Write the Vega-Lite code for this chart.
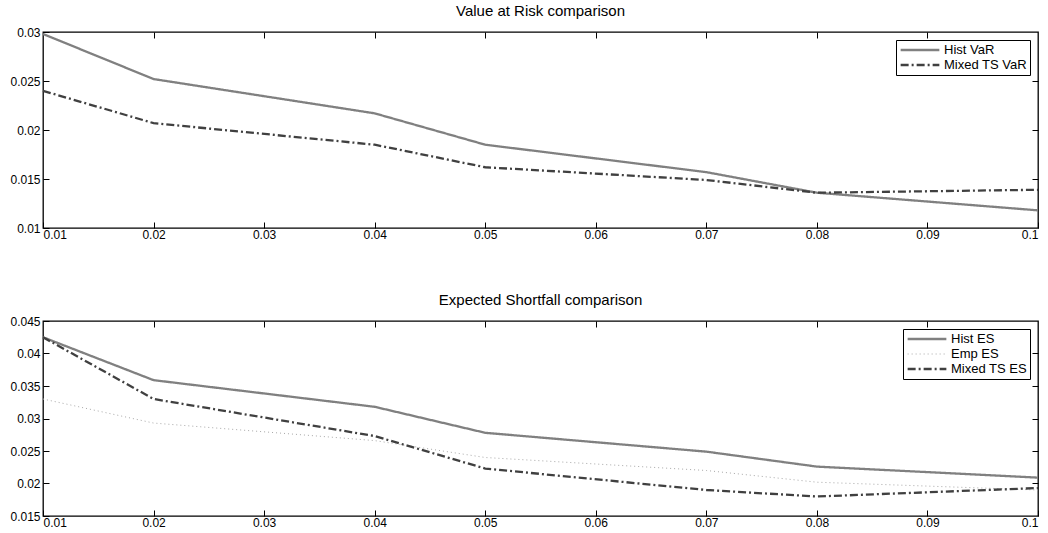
{
  "$schema": "https://vega.github.io/schema/vega-lite/v6.json",
  "padding": {"left": 9, "top": 3, "right": 0, "bottom": 0},
  "spacing": 51,
  "resolve": {
    "scale": {"color": "independent", "strokeDash": "independent", "strokeWidth": "independent"},
    "legend": {"color": "independent", "strokeDash": "independent", "strokeWidth": "independent"}
  },
  "config": {
    "font": "Liberation Sans",
    "view": {"stroke": "#000000", "strokeWidth": 1.3},
    "axis": {
      "grid": false,
      "domain": false,
      "ticks": true,
      "tickColor": "#000000",
      "tickSize": 6,
      "offset": -6,
      "tickWidth": 1,
      "labelFont": "Liberation Sans",
      "labelFontSize": 12,
      "labelColor": "#000000",
      "labelPadding": 1,
      "title": null
    },
    "axisLeft": {"labelPadding": 3},
    "title": {"font": "Liberation Sans", "fontSize": 15, "fontWeight": "normal", "color": "#000000", "offset": 7},
    "legend": {
      "orient": "top-right",
      "offset": 8,
      "strokeColor": "#000000",
      "fillColor": "#ffffff",
      "padding": 3,
      "title": null,
      "labelFont": "Liberation Sans",
      "labelFontSize": 13,
      "labelColor": "#000000",
      "symbolType": "stroke",
      "symbolSize": 1500,
      "symbolStrokeWidth": 2.3,
      "clipHeight": 14,
      "rowPadding": 1,
      "labelOffset": 3
    }
  },
  "datasets": {
    "var": [
      {"series": "Hist VaR", "alpha": 0.01, "value": 0.0298},
      {"series": "Hist VaR", "alpha": 0.02, "value": 0.0252},
      {"series": "Hist VaR", "alpha": 0.04, "value": 0.0217},
      {"series": "Hist VaR", "alpha": 0.05, "value": 0.0185},
      {"series": "Hist VaR", "alpha": 0.07, "value": 0.0157},
      {"series": "Hist VaR", "alpha": 0.08, "value": 0.0136},
      {"series": "Hist VaR", "alpha": 0.1, "value": 0.0118},
      {"series": "Mixed TS VaR", "alpha": 0.01, "value": 0.0240},
      {"series": "Mixed TS VaR", "alpha": 0.02, "value": 0.0207},
      {"series": "Mixed TS VaR", "alpha": 0.04, "value": 0.0185},
      {"series": "Mixed TS VaR", "alpha": 0.05, "value": 0.0162},
      {"series": "Mixed TS VaR", "alpha": 0.07, "value": 0.0149},
      {"series": "Mixed TS VaR", "alpha": 0.08, "value": 0.0136},
      {"series": "Mixed TS VaR", "alpha": 0.1, "value": 0.0139}
    ],
    "es": [
      {"series": "Hist ES", "alpha": 0.01, "value": 0.0425},
      {"series": "Hist ES", "alpha": 0.02, "value": 0.0359},
      {"series": "Hist ES", "alpha": 0.04, "value": 0.0318},
      {"series": "Hist ES", "alpha": 0.05, "value": 0.0278},
      {"series": "Hist ES", "alpha": 0.07, "value": 0.0249},
      {"series": "Hist ES", "alpha": 0.08, "value": 0.0226},
      {"series": "Hist ES", "alpha": 0.1, "value": 0.0209},
      {"series": "Emp ES", "alpha": 0.01, "value": 0.0330},
      {"series": "Emp ES", "alpha": 0.02, "value": 0.0293},
      {"series": "Emp ES", "alpha": 0.04, "value": 0.0266},
      {"series": "Emp ES", "alpha": 0.05, "value": 0.0240},
      {"series": "Emp ES", "alpha": 0.07, "value": 0.0220},
      {"series": "Emp ES", "alpha": 0.08, "value": 0.0202},
      {"series": "Emp ES", "alpha": 0.1, "value": 0.0190},
      {"series": "Mixed TS ES", "alpha": 0.01, "value": 0.0425},
      {"series": "Mixed TS ES", "alpha": 0.02, "value": 0.0330},
      {"series": "Mixed TS ES", "alpha": 0.04, "value": 0.0273},
      {"series": "Mixed TS ES", "alpha": 0.05, "value": 0.0223},
      {"series": "Mixed TS ES", "alpha": 0.07, "value": 0.0190},
      {"series": "Mixed TS ES", "alpha": 0.08, "value": 0.0180},
      {"series": "Mixed TS ES", "alpha": 0.1, "value": 0.0193}
    ]
  },
  "vconcat": [
    {
      "title": "Value at Risk comparison",
      "width": 995,
      "height": 196,
      "data": {"name": "var"},
      "resolve": {"axis": {"x": "independent", "y": "independent"}},
      "layer": [
        {
          "mark": {"type": "line"},
          "encoding": {
            "x": {"field": "alpha", "type": "quantitative", "scale": {"domain": [0.01, 0.1], "nice": false, "zero": false},
                  "axis": {"values": [0.01, 0.02, 0.03, 0.04, 0.05, 0.06, 0.07, 0.08, 0.09, 0.1], "format": "~g"}},
            "y": {"field": "value", "type": "quantitative", "scale": {"domain": [0.01, 0.03], "nice": false, "zero": false},
                  "axis": {"values": [0.01, 0.015, 0.02, 0.025, 0.03], "format": "~g"}},
            "color": {"field": "series", "type": "nominal", "sort": ["Hist VaR", "Mixed TS VaR"],
                      "scale": {"domain": ["Hist VaR", "Mixed TS VaR"], "range": ["#808080", "#404040"]}},
            "strokeDash": {"field": "series", "type": "nominal", "sort": ["Hist VaR", "Mixed TS VaR"],
                           "scale": {"domain": ["Hist VaR", "Mixed TS VaR"], "range": [[1, 0], [8, 3, 2, 3]]}},
            "strokeWidth": {"value": 2.3}
          }
        },
        {
          "mark": {"type": "line", "opacity": 0},
          "encoding": {
            "x": {"field": "alpha", "type": "quantitative",
                  "axis": {"orient": "top", "labels": false, "values": [0.02, 0.03, 0.04, 0.05, 0.06, 0.07, 0.08, 0.09]}},
            "y": {"field": "value", "type": "quantitative",
                  "axis": {"orient": "right", "labels": false, "values": [0.015, 0.02, 0.025]}},
            "detail": {"field": "series"}
          }
        }
      ]
    },
    {
      "title": "Expected Shortfall comparison",
      "width": 995,
      "height": 195,
      "data": {"name": "es"},
      "resolve": {"axis": {"x": "independent", "y": "independent"}},
      "layer": [
        {
          "mark": {"type": "line"},
          "encoding": {
            "x": {"field": "alpha", "type": "quantitative", "scale": {"domain": [0.01, 0.1], "nice": false, "zero": false},
                  "axis": {"values": [0.01, 0.02, 0.03, 0.04, 0.05, 0.06, 0.07, 0.08, 0.09, 0.1], "format": "~g"}},
            "y": {"field": "value", "type": "quantitative", "scale": {"domain": [0.015, 0.045], "nice": false, "zero": false},
                  "axis": {"values": [0.015, 0.02, 0.025, 0.03, 0.035, 0.04, 0.045], "format": "~g"}},
            "color": {"field": "series", "type": "nominal", "sort": ["Hist ES", "Emp ES", "Mixed TS ES"],
                      "scale": {"domain": ["Hist ES", "Emp ES", "Mixed TS ES"], "range": ["#808080", "#a8a8a8", "#404040"]}},
            "strokeDash": {"field": "series", "type": "nominal", "sort": ["Hist ES", "Emp ES", "Mixed TS ES"],
                           "scale": {"domain": ["Hist ES", "Emp ES", "Mixed TS ES"], "range": [[1, 0], [1, 3], [8, 3, 2, 3]]}},
            "strokeWidth": {"field": "series", "type": "nominal", "sort": ["Hist ES", "Emp ES", "Mixed TS ES"],
                            "scale": {"type": "ordinal", "domain": ["Hist ES", "Emp ES", "Mixed TS ES"], "range": [2.3, 1, 2.3]}}
          }
        },
        {
          "mark": {"type": "line", "opacity": 0},
          "encoding": {
            "x": {"field": "alpha", "type": "quantitative",
                  "axis": {"orient": "top", "labels": false, "values": [0.02, 0.03, 0.04, 0.05, 0.06, 0.07, 0.08, 0.09]}},
            "y": {"field": "value", "type": "quantitative",
                  "axis": {"orient": "right", "labels": false, "values": [0.02, 0.025, 0.03, 0.035, 0.04]}},
            "detail": {"field": "series"}
          }
        }
      ]
    }
  ]
}
